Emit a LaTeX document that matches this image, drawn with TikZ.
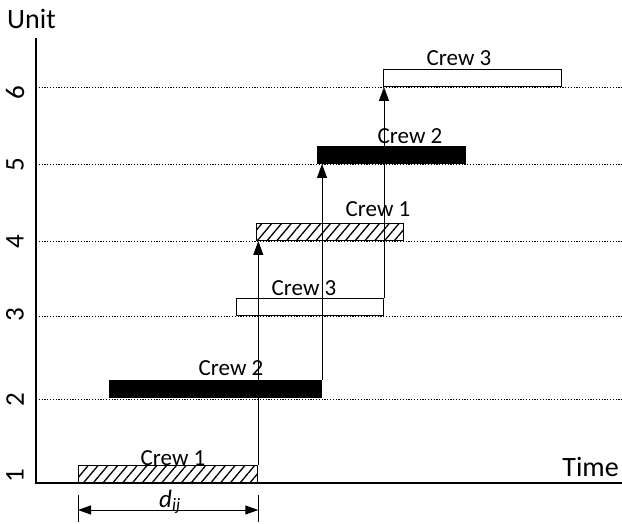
\documentclass[tikz,border=0pt]{standalone}
\usepackage{fontspec}
\setmainfont{Carlito}
\usetikzlibrary{arrows.meta, calc, patterns.meta}

\begin{document}
\begin{tikzpicture}[x=1pt, y=-1pt,
            % ----- Styles -----
                bar/.style={
                    rectangle, draw=black, line width=1pt, inner sep=0pt,
                    minimum height=17pt, anchor=south west
                },
                hatchbar/.style={bar, pattern={Lines[angle=50, distance=7.5pt, line width=1.3pt]}},
                solidbar/.style={bar, fill=black},
                openbar/.style={bar, fill=white},
                crew/.style={font=\fontsize{23}{23}\selectfont, anchor=base, inner sep=0pt},
                unitno/.style={font=\fontsize{27}{27}\selectfont, rotate=90, inner sep=0pt},
                axislbl/.style={font=\fontsize{28}{28}\selectfont, inner sep=0pt},
                gridline/.style={line width=0.9pt, dash pattern=on 1.2pt off 1.6pt},
                axisline/.style={line width=1.4pt},
                jump/.style={line width=1pt, -{Triangle[length=14pt, width=10pt]}},
                dim/.style={line width=1pt, {Triangle[length=13pt, width=9pt]}-{Triangle[length=13pt, width=9pt]}}
            ]
                \useasboundingbox (0,0) rectangle (622,524);

% ===================== Achsen ==================================
                \coordinate (o)  at (36, 483);
                \coordinate (yt) at (36, 38);
                \coordinate (xr) at (622, 483);
                \draw[axisline] (yt) -- (o) -- (xr);
                \node[axislbl, anchor=base west] (ulbl) at (7, 29) {Unit};
                \node[axislbl, anchor=base east] (tlbl) at (619, 476) {Time};

% ===================== Einheiten (Raster) ======================
                \foreach \u/\y/\ly in {2/399/400, 3/316/315, 4/241/242, 5/164/165, 6/87/93} {
                    \coordinate (g\u) at (36, \y);
                    \coordinate (h\u) at (622, \y);
                    \draw[gridline] (g\u) -- (h\u);
                    \node[unitno] (n\u) at (15, \ly) {\u};
                }
                \node[unitno] (n1) at (15, 476) {1};

% ===================== Balken (Crews) ==========================
                \node[hatchbar, minimum width=179pt] (c1a) at (78, 483)  {};
                \node[solidbar, minimum width=212pt] (c2a) at (109, 398) {};
                \node[openbar,  minimum width=147pt] (c3a) at (236, 316) {};
                \node[hatchbar, minimum width=147pt] (c1b) at (256, 241) {};
                \node[solidbar, minimum width=148pt] (c2b) at (317, 164) {};
                \node[openbar,  minimum width=178pt] (c3b) at (383, 87)  {};

                \node[crew] (l1a) at (173, 465) {Crew 1};
                \node[crew] (l2a) at (231, 375) {Crew 2};
                \node[crew] (l3a) at (304, 295) {Crew 3};
                \node[crew] (l1b) at (378, 217) {Crew 1};
                \node[crew] (l2b) at (410, 144) {Crew 2};
                \node[crew] (l3b) at (459, 66)  {Crew 3};

% ===================== Uebergaenge =============================
                \draw[jump] (c1a.north east) -- (c1a.north east |- c1b.south);
                \draw[jump] (c2a.north east) -- (c2a.north east |- c2b.south);
                \draw[jump] (c3a.north east) -- (c3a.north east |- c3b.south);

% ===================== Dauer d_ij ==============================
                \coordinate (dL)  at ($(c1a.south west)+(0,27)$);
                \coordinate (dR)  at ($(c1a.south east)+(0,27)$);
                \coordinate (dLt) at ($(dL)+(0,-15)$);
                \coordinate (dLb) at ($(dL)+(0,12)$);
                \coordinate (dRt) at ($(dR)+(0,-15)$);
                \coordinate (dRb) at ($(dR)+(0,12)$);
                \draw[line width=1pt] (dLt) -- (dLb);
                \draw[line width=1pt] (dRt) -- (dRb);
                \draw[dim] (dL) -- (dR);
                \node[font=\fontsize{25}{25}\selectfont\itshape, anchor=base, inner sep=0pt] (dlbl)
                at (170, 507) {d\textsubscript{ij}};

            \end{tikzpicture}
\end{document}
